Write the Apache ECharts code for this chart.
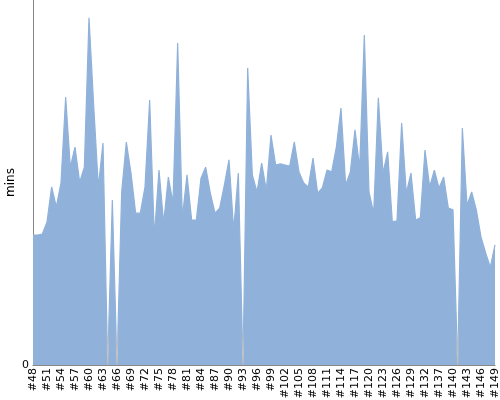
<!DOCTYPE html>
<html>
<head>
<meta charset="utf-8">
<script src="https://cdn.jsdelivr.net/npm/echarts@6/dist/echarts.min.js"></script>
<style>
  html, body { margin: 0; padding: 0; background: #fff; }
  #chart { width: 500px; height: 400px; }
</style>
</head>
<body>
<div id="chart"></div>
<script>
// build numbers shown on the x axis (two ids between #132 and #137 are missing)
var buildNums = [
  48, 49, 50, 51, 52, 53, 54, 55, 56, 57, 58, 59, 60, 61, 62, 63, 64, 65, 66, 67,
  68, 69, 70, 71, 72, 73, 74, 75, 76, 77, 78, 79, 80, 81, 82, 83, 84, 85, 86, 87,
  88, 89, 90, 91, 92, 93, 94, 95, 96, 97, 98, 99, 100, 101, 102, 103, 104, 105, 106, 107,
  108, 109, 110, 111, 112, 113, 114, 115, 116, 117, 118, 119, 120, 121, 122, 123, 124, 125, 126, 127,
  128, 129, 130, 131, 132, 134, 135, 137, 138, 139, 140, 141, 142, 143, 144, 145, 146, 147, 148, 149
];

// duration in mins per build
var durations = [
  35.6, 35.6, 35.9, 39.2, 48.8, 43.3, 49.9, 73.4, 54.2, 59.7,
  50.1, 54.2, 95.1, 71.2, 48.8, 60.8, 0, 45.2, 0, 47.4,
  61.1, 52.6, 41.6, 41.6, 48.8, 72.6, 35.1, 53.4, 38.9, 51.5,
  44.4, 88.2, 40.3, 52.1, 39.7, 39.7, 51.2, 54.2, 47.1, 41.6,
  43.0, 49.3, 56.2, 37.0, 52.6, 0, 81.4, 52.1, 47.4, 55.3,
  47.9, 63.0, 54.8, 55.1, 54.8, 54.5, 61.1, 52.9, 49.9, 48.8,
  56.7, 47.1, 48.5, 53.4, 52.9, 59.7, 70.4, 49.3, 52.9, 64.4,
  54.0, 90.4, 47.4, 41.6, 73.2, 52.6, 58.4, 39.2, 39.5, 66.3,
  47.1, 52.6, 39.7, 40.3, 58.9, 48.8, 53.4, 48.5, 51.5, 43.0,
  42.5, 0, 64.9, 43.8, 47.4, 42.5, 35.1, 30.7, 26.8, 32.9
];

var yMax = 100;

var categories = buildNums.map(function (n) { return '#' + n; });

var chart = echarts.init(document.getElementById('chart'));
chart.setOption({
  animation: false,
  grid: {
    left: 33,
    right: 5,
    top: 0,
    bottom: 35,
    outerBoundsMode: 'none'
  },
  xAxis: {
    type: 'category',
    data: categories,
    boundaryGap: false,
    axisLine: { lineStyle: { color: '#888', width: 1 } },
    axisTick: { show: false },
    axisLabel: {
      interval: 2,
      rotate: 90,
      margin: 3,
      fontSize: 11,
      fontFamily: 'DejaVu Sans',
      color: '#000'
    },
    splitLine: { show: false }
  },
  yAxis: {
    type: 'value',
    min: 0,
    max: yMax,
    interval: yMax,
    name: 'mins',
    nameLocation: 'middle',
    nameRotate: 90,
    nameGap: 16,
    nameMoveOverlap: false,
    nameTextStyle: { fontSize: 12, fontFamily: 'DejaVu Sans', color: '#000' },
    axisLine: { show: true, lineStyle: { color: '#888', width: 1 } },
    axisTick: { show: false },
    axisLabel: {
      margin: 4,
      fontSize: 11,
      fontFamily: 'DejaVu Sans',
      color: '#000',
      formatter: function (v) { return v === 0 ? '0' : ''; }
    },
    splitLine: { show: false }
  },
  series: [{
    type: 'line',
    data: durations,
    showSymbol: false,
    lineStyle: {
      width: 1.2,
      // greyish near the baseline, as in the original's dips
      color: new echarts.graphic.LinearGradient(0, 0, 0, 1, [
        { offset: 0, color: '#8fb1da' },
        { offset: 0.88, color: '#8fb1da' },
        { offset: 0.96, color: '#c4c4c4' },
        { offset: 1, color: '#b8b8b8' }
      ])
    },
    areaStyle: { color: '#8fb1da', opacity: 1 }
  }]
});
</script>
</body>
</html>
